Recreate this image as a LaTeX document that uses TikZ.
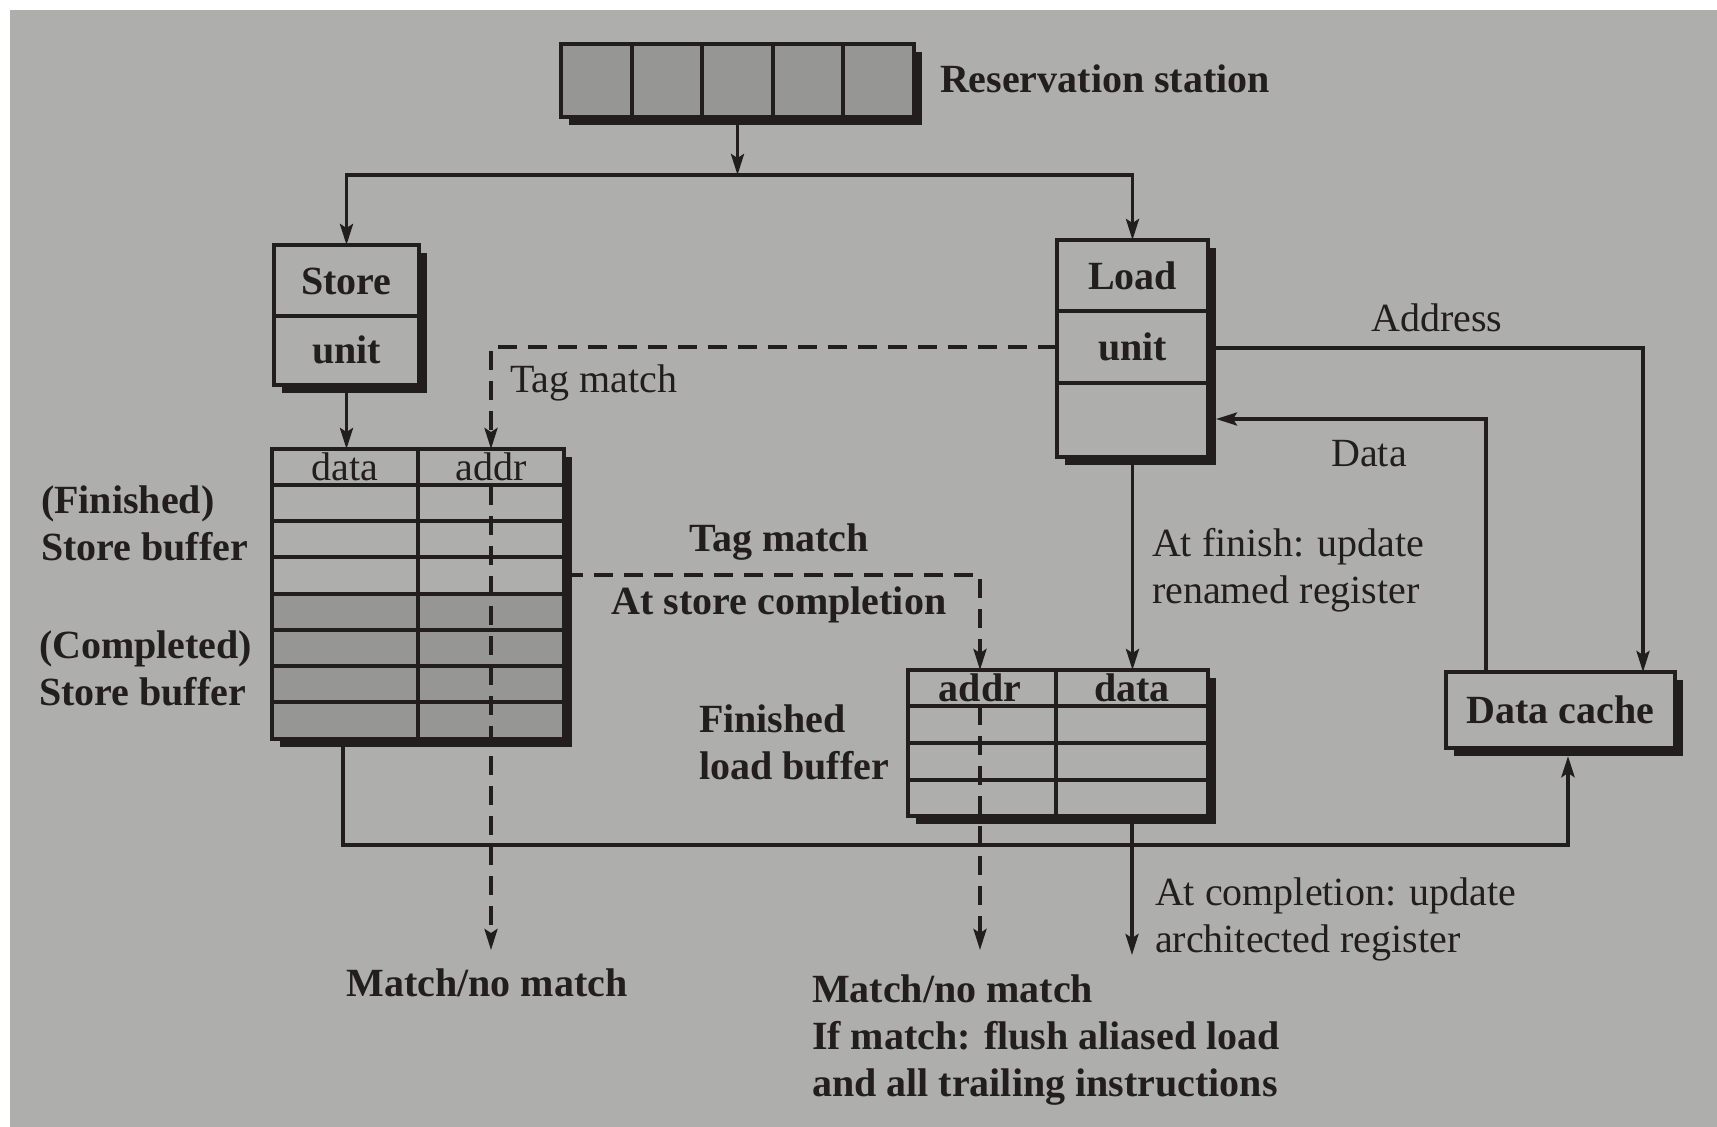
\documentclass[tikz,border=0pt]{standalone}
\usepackage{fontspec}
\setmainfont{Liberation Serif}
\usetikzlibrary{arrows.meta,shadows}
\definecolor{bg}{RGB}{174,174,172}
\definecolor{cellgray}{RGB}{150,150,148}
\definecolor{ink}{RGB}{35,30,30}
\begin{document}
\begin{tikzpicture}[x=1pt,y=-1pt,
  every node/.style={font=\fontsize{40}{47}\selectfont, text=ink, inner sep=0pt, outer sep=0pt},
  box/.style={draw=ink, line width=3.5pt, fill=bg, drop shadow={shadow xshift=8pt, shadow yshift=-8pt, fill=ink, opacity=1}},
  ln/.style={draw=ink, line width=3.5pt},
  arr/.style={ln, -{Stealth[length=21pt,width=13pt,inset=4pt]}},
  dsh/.style={draw=ink, line width=3.5pt, dash pattern=on 19pt off 11pt},
  darr/.style={dsh, -{Stealth[length=21pt,width=13pt,inset=4pt]}},
  lbl/.style={align=left, anchor=west},
  bf/.style={font=\fontsize{40}{47}\selectfont\bfseries}]
\useasboundingbox (0,0) rectangle (1717,1127);
\fill[bg] (0,0) rectangle (1717,1127);
\fill[white] (0,0) rectangle (1717,10);
\fill[white] (0,0) rectangle (10,1127);

% Reservation station
\node[box, fill=cellgray, minimum width=353pt, minimum height=73pt] (rs) at (737.5,80.5) {};
\foreach \x in {632,702,773,843} \draw[ln] (\x,44) -- (\x,117);
\node[bf, anchor=west] (rslbl) at (940,79) {Reservation station};

% Store unit
\node[box, minimum width=145pt, minimum height=140pt] (store) at (346.5,315) {};
\draw[ln] (274,316) -- (419,316);
\node[bf] (storet1) at (346.5,281) {Store};
\node[bf] (storet2) at (346.5,350) {unit};

% Load unit
\node[box, minimum width=151pt, minimum height=217pt] (load) at (1132.5,348.5) {};
\draw[ln] (1057,311) -- (1208,311);
\draw[ln] (1057,383) -- (1208,383);
\node[bf] (loadt1) at (1132.5,276) {Load};
\node[bf] (loadt2) at (1132.5,347) {unit};

% Data cache
\node[box, bf, minimum width=229pt, minimum height=76pt] (cache) at (1560.5,710) {Data cache};

% Store buffer
\node[box, minimum width=292pt, minimum height=290pt] (sbuf) at (418,594) {};
\fill[cellgray] (272,594) rectangle (564,739);
\foreach \y in {485,521,557,594,630,666,702} \draw[ln] (272,\y) -- (564,\y);
\draw[ln] (418,449) -- (418,739);
\draw[ln] (272,449) rectangle (564,739);
\node (sbh1) at (345,467) {data};
\node (sbh2) at (491,467) {addr};
\node[bf, lbl] (sbl1) at (41,523) {(Finished)\\Store buffer};
\node[bf, lbl] (sbl2) at (39,668) {(Completed)\\Store buffer};

% Load buffer
\node[box, minimum width=300pt, minimum height=146pt] (lbuf) at (1058,743) {};
\foreach \y in {706,743,780} \draw[ln] (908,\y) -- (1208,\y);
\draw[ln] (1056,670) -- (1056,816);
\node[bf] (lbh1) at (980,688) {addr};
\node[bf] (lbh2) at (1132,688) {data};
\node[bf, lbl] (lbl) at (699,742) {Finished\\load buffer};

% connectors from reservation station
\coordinate (j) at (737.5,175);
\draw[arr] (rs.south) -- (j);
\draw[arr] (j) -| (store.north);
\draw[arr] (j) -| (load.north);
\draw[arr] (store.south) -- (store.south |- sbuf.north);

% load unit <-> data cache
\draw[arr] (load.east |- 0,348) -| (cache.north -| 1643,0);
\node (addrlbl) at (1437,318) {Address};
\draw[arr, shorten >=8pt] (cache.north -| 1486,0) |- (load.east |- 0,419);
\node (datalbl) at (1369,454) {Data};

% load unit -> load buffer
\draw[arr] (load.south) -- (load.south |- lbuf.north);
\node[lbl] (finlbl) at (1152,570) {At finish: update\\renamed register};

% load buffer -> architected register
\coordinate (archend) at (1132,955);
\draw[arr] (lbuf.south -| archend) -- (archend);
\node[lbl] (complbl) at (1155,919) {At completion: update\\architected register};

% store buffer -> data cache
\coordinate (sbc) at (343,845);
\draw[ln, line width=4.5pt, -{Stealth[length=21pt,width=13pt,inset=4pt]}, shorten >=8pt] (sbuf.south -| sbc) |- (1568,845) -- (cache.south -| 1568,0);

% tag match: load unit -> store buffer
\coordinate (sbaddr) at (491,449);
\draw[darr] (load.west |- 0,347) -| (sbaddr);
\node[anchor=west] (tm1) at (510,383) {Tag match};
\coordinate (sbd1) at (491,486);
\coordinate (mend1) at (491,950);
\draw[darr] (sbd1) -- (mend1);
\node[bf] (mnm1) at (487,983) {Match/no match};

% tag match at store completion: store buffer -> load buffer
\coordinate (lbaddr) at (980,670);
\draw[darr] (sbuf.east |- 0,575) -| (lbaddr);
\node[bf] (tm2) at (779,542) {Tag match};
\node[bf] (asc) at (779,605) {At store completion};
\coordinate (lbd1) at (980,706);
\coordinate (mend2) at (980,950);
\draw[darr] (lbd1) -- (mend2);
\node[bf, lbl] (mnm2) at (812,1040) {Match/no match\\If match: flush aliased load\\and all trailing instructions};
\end{tikzpicture}
\end{document}
